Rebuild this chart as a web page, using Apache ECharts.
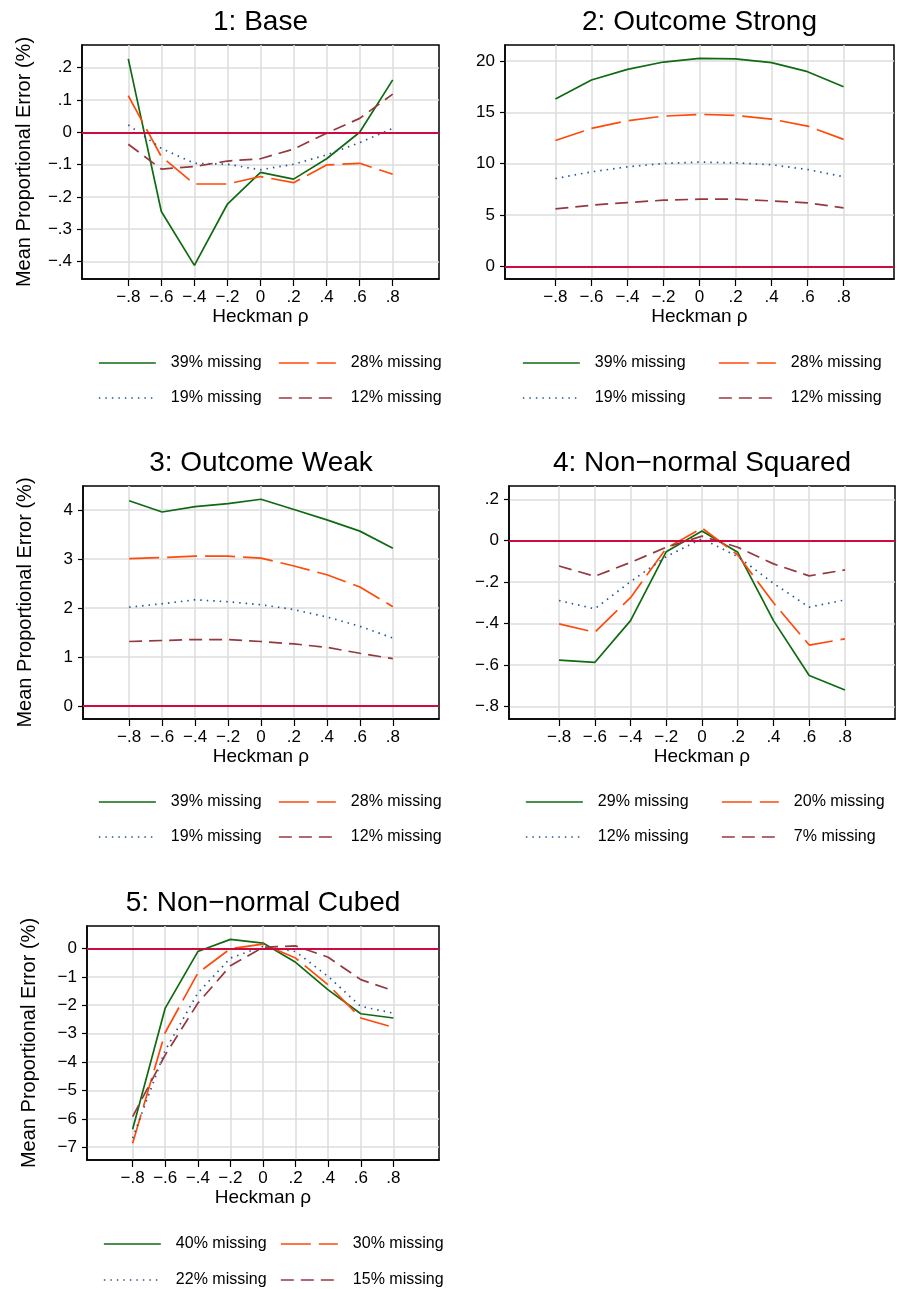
<!DOCTYPE html>
<html>
<head>
<meta charset="utf-8">
<script src="https://cdn.jsdelivr.net/npm/echarts@6/dist/echarts.min.js"></script>
<style>
  html, body { margin: 0; padding: 0; background: #fff; }
  #main { width: 898px; height: 1289px; }
</style>
</head>
<body>
<div id="main"></div>
<script>
// Heckman rho values on the x axis
var xVals = [-0.8, -0.6, -0.4, -0.2, 0, 0.2, 0.4, 0.6, 0.8];
var xTicks = [-0.8, -0.6, -0.4, -0.2, 0, 0.2, 0.4, 0.6, 0.8];

// 1: Base
var p1Names = ['39% missing', '28% missing', '19% missing', '12% missing'];
var p1_a = [0.227, -0.245, -0.412, -0.222, -0.124, -0.145, -0.082, 0.0, 0.162];
var p1_b = [0.113, -0.075, -0.160, -0.160, -0.137, -0.156, -0.101, -0.096, -0.130];
var p1_c = [0.023, -0.050, -0.096, -0.099, -0.116, -0.099, -0.070, -0.032, 0.012];
var p1_d = [-0.037, -0.114, -0.106, -0.089, -0.082, -0.052, -0.003, 0.043, 0.118];
var p1Ticks = [-0.4, -0.3, -0.2, -0.1, 0, 0.1, 0.2];

// 2: Outcome Strong
var p2Names = ['39% missing', '28% missing', '19% missing', '12% missing'];
var p2_a = [16.29, 18.15, 19.19, 19.90, 20.26, 20.20, 19.84, 18.96, 17.50];
var p2_b = [12.26, 13.43, 14.18, 14.63, 14.80, 14.70, 14.34, 13.66, 12.36];
var p2_c = [8.55, 9.20, 9.69, 10.02, 10.15, 10.08, 9.89, 9.43, 8.72];
var p2_d = [5.59, 5.95, 6.21, 6.44, 6.54, 6.54, 6.37, 6.18, 5.69];
var p2Ticks = [0, 5, 10, 15, 20];

// 3: Outcome Weak
var p3Names = ['39% missing', '28% missing', '19% missing', '12% missing'];
var p3_a = [4.19, 3.96, 4.07, 4.13, 4.22, 4.01, 3.80, 3.57, 3.22];
var p3_b = [3.01, 3.03, 3.06, 3.06, 3.02, 2.86, 2.68, 2.43, 2.03];
var p3_c = [2.02, 2.09, 2.17, 2.13, 2.07, 1.97, 1.82, 1.63, 1.39];
var p3_d = [1.32, 1.34, 1.36, 1.36, 1.32, 1.27, 1.20, 1.08, 0.97];
var p3Ticks = [0, 1, 2, 3, 4];

// 4: Non-normal Squared
var p4Names = ['29% missing', '20% missing', '12% missing', '7% missing'];
var p4_a = [-0.577, -0.588, -0.386, -0.053, 0.047, -0.056, -0.386, -0.651, -0.721];
var p4_b = [-0.402, -0.442, -0.275, -0.037, 0.061, -0.069, -0.300, -0.504, -0.474];
var p4_c = [-0.289, -0.329, -0.198, -0.077, 0.010, -0.077, -0.206, -0.321, -0.286];
var p4_d = [-0.122, -0.172, -0.105, -0.032, 0.022, -0.032, -0.112, -0.170, -0.141];
var p4Ticks = [-0.8, -0.6, -0.4, -0.2, 0, 0.2];

// 5: Non-normal Cubed
var p5Names = ['40% missing', '30% missing', '22% missing', '15% missing'];
var p5_a = [-6.37, -2.10, -0.11, 0.32, 0.19, -0.49, -1.46, -2.30, -2.45];
var p5_b = [-6.86, -2.96, -0.87, -0.01, 0.15, -0.34, -1.28, -2.45, -2.78];
var p5_c = [-6.68, -3.59, -1.57, -0.34, 0.07, -0.11, -0.99, -2.04, -2.28];
var p5_d = [-5.92, -3.75, -1.93, -0.61, 0.04, 0.09, -0.31, -1.10, -1.49];
var p5Ticks = [-7, -6, -5, -4, -3, -2, -1, 0];

var FONT = '"Liberation Sans", Arial, Helvetica, sans-serif';
var styles = [
  { color: '#0f6a12', type: 'solid' },
  { color: '#ff4a0a', type: [30, 8] },
  { color: '#25578f', type: [1.5, 5] },
  { color: '#943a3f', type: [13, 7] }
];

// layout of each panel: plot box, y range, title, legend spots
var panels = [
  { title: '1: Base', names: p1Names, data: [p1_a, p1_b, p1_c, p1_d], ticks: p1Ticks,
    box: [82, 45, 357, 234], ymin: -0.454, ymax: 0.27, yname: true,
    leg: [[98, 278], [363, 398]] },
  { title: '2: Outcome Strong', names: p2Names, data: [p2_a, p2_b, p2_c, p2_d], ticks: p2Ticks,
    box: [505, 45, 389, 234], ymin: -1.24, ymax: 21.56, yname: false,
    leg: [[522, 718], [363, 398]] },
  { title: '3: Outcome Weak', names: p3Names, data: [p3_a, p3_b, p3_c, p3_d], ticks: p3Ticks,
    box: [83, 486, 356, 233], ymin: -0.26, ymax: 4.49, yname: true,
    leg: [[98, 278], [802, 837]] },
  { title: '4: Non\u2212normal Squared', names: p4Names, data: [p4_a, p4_b, p4_c, p4_d], ticks: p4Ticks,
    box: [509, 486, 386, 233], ymin: -0.861, ymax: 0.264, yname: false,
    leg: [[525, 721], [802, 837]] },
  { title: '5: Non\u2212normal Cubed', names: p5Names, data: [p5_a, p5_b, p5_c, p5_d], ticks: p5Ticks,
    box: [87, 926, 352, 234], ymin: -7.45, ymax: 0.79, yname: true,
    leg: [[103, 280], [1244, 1280]] }
];

function fmt(v) {
  var s = String(Math.round(v * 1000) / 1000);
  s = s.replace(/^(-?)0\./, '$1.');
  return s.replace('-', '\u2212');
}

var grid = [], xAxis = [], yAxis = [], series = [], legend = [], title = [];

panels.forEach(function (p, k) {
  var b = p.box;
  grid.push({ left: b[0], top: b[1], width: b[2], height: b[3], show: true,
    borderColor: '#000', borderWidth: 1.5, backgroundColor: '#fff' });
  title.push({ text: p.title, left: b[0] + b[2] / 2, top: b[1] - 37, textAlign: 'center', padding: 0,
    textStyle: { fontFamily: FONT, fontSize: 28, fontWeight: 'normal', color: '#000' } });
  xAxis.push({
    type: 'value', gridIndex: k, min: -1.08, max: 1.08,
    name: 'Heckman \u03c1', nameLocation: 'middle', nameGap: 27,
    nameTextStyle: { fontFamily: FONT, fontSize: 19, color: '#000' },
    axisLine: { show: true, onZero: false, lineStyle: { color: '#000', width: 1.5 } },
    axisTick: { show: true, length: 7, customValues: xTicks, lineStyle: { color: '#000', width: 1.2 } },
    axisLabel: { customValues: xTicks, margin: 10, fontFamily: FONT, fontSize: 17, color: '#000', formatter: fmt },
    splitLine: { show: true, lineStyle: { color: '#dcdcdc', width: 1.5 } }
  });
  yAxis.push({
    type: 'value', gridIndex: k, min: p.ymin, max: p.ymax,
    name: p.yname ? 'Mean Proportional Error (%)' : '', nameLocation: 'middle', nameGap: 48,
    nameTextStyle: { fontFamily: FONT, fontSize: 20, color: '#000' },
    axisLine: { show: true, onZero: false, lineStyle: { color: '#000', width: 1.5 } },
    axisTick: { show: true, length: 5, customValues: p.ticks, lineStyle: { color: '#000', width: 1.2 } },
    axisLabel: { customValues: p.ticks, margin: 10, fontFamily: FONT, fontSize: 17, color: '#000', formatter: fmt },
    splitLine: { show: true, lineStyle: { color: '#dcdcdc', width: 1.5 } }
  });
  p.data.forEach(function (vals, i) {
    var sname = 'p' + (k + 1) + '|' + p.names[i];
    var s = {
      type: 'line', name: sname, xAxisIndex: k, yAxisIndex: k,
      symbol: 'none', showSymbol: false, animation: false, silent: true,
      lineStyle: { color: styles[i].color, width: 1.7, type: styles[i].type },
      itemStyle: { color: styles[i].color },
      data: xVals.map(function (x, j) { return [x, vals[j]]; })
    };
    if (i === 0) {
      s.markLine = { symbol: 'none', silent: true, animation: false, label: { show: false },
        lineStyle: { color: '#cc0b3f', width: 2, type: 'solid' }, emphasis: { disabled: true },
        data: [{ yAxis: 0 }] };
      s.z = 2;
    }
    series.push(s);
    legend.push({
      data: [sname], left: p.leg[0][i % 2], top: p.leg[1][Math.floor(i / 2)] - 8,
      itemWidth: 57, itemHeight: 16, padding: 0, selectedMode: false,
      itemStyle: { opacity: 0 },
      lineStyle: { width: 1.7 },
      formatter: function (n) { return n.split('|')[1]; },
      textStyle: { fontFamily: FONT, fontSize: 16, color: '#000', padding: [0, 0, 0, 10] }
    });
  });
});

var chart = echarts.init(document.getElementById('main'), null, { renderer: 'canvas' });
chart.setOption({
  backgroundColor: '#fff',
  animation: false,
  title: title,
  grid: grid,
  xAxis: xAxis,
  yAxis: yAxis,
  legend: legend,
  series: series
});
</script>
</body>
</html>
